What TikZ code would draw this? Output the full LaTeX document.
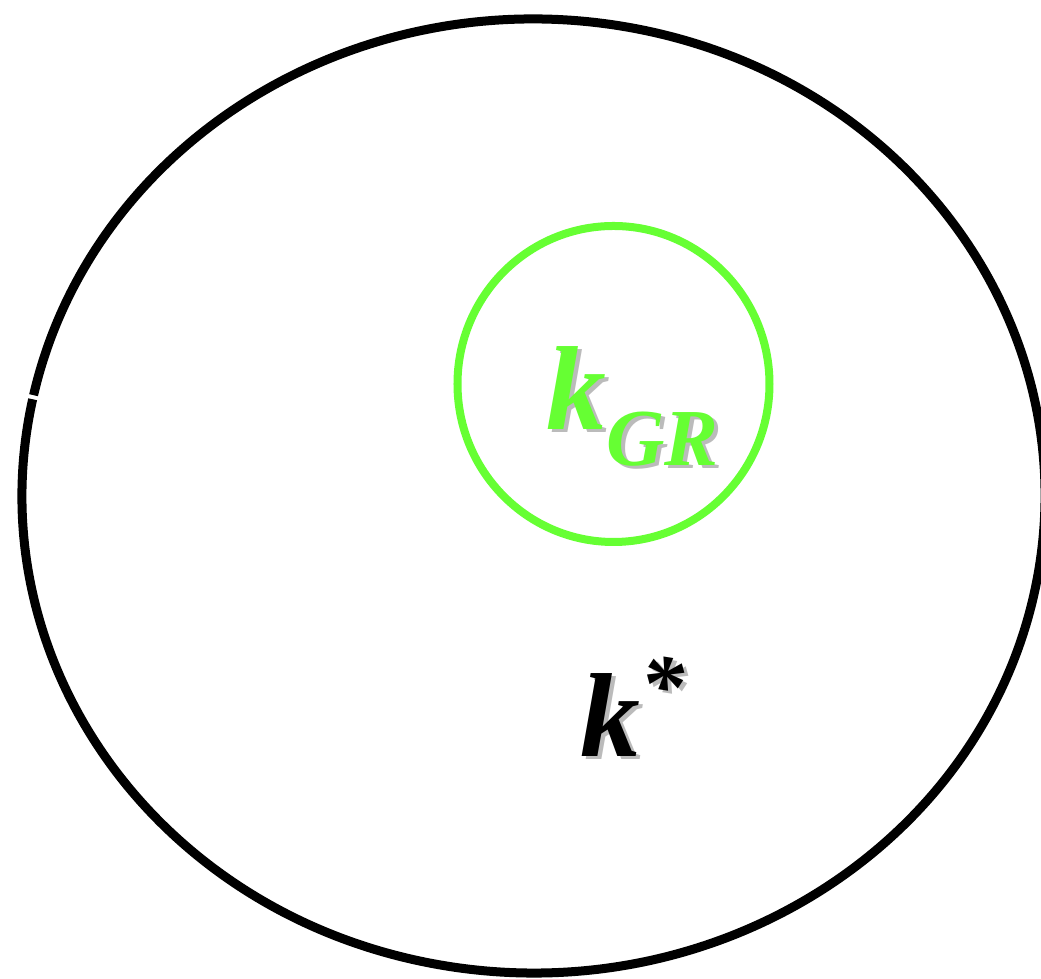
\documentclass[tikz,border=0pt]{standalone}
\usepackage{fontspec}
\setmainfont{Liberation Serif}
\definecolor{kgreen}{HTML}{66FF33}
\definecolor{shadowgray}{HTML}{BBBBBB}
\begin{document}
\begin{tikzpicture}[x=0.01cm,y=0.01cm,
  outerline/.style={line width=0.09cm,draw=black},
  innerline/.style={line width=0.08cm,draw=kgreen},
  bigtxt/.style={inner sep=0pt,font=\fontsize{34}{40}\selectfont\bfseries\itshape},
]
\useasboundingbox (0,0) rectangle (1041,979);
% outer ellipse with small gap on the left
\coordinate (oc) at (533.5,483);
\draw[outerline] (oc) ++(168.3:511.5 and 477)
  arc[start angle=168.3, end angle=527.8, x radius=511.5, y radius=477];
% green circle
\draw[innerline] (613.5,595) ellipse[x radius=156, y radius=158];
\coordinate (gc) at (613.5,595);
% k_GR label: shadow then text
\node[bigtxt,text=shadowgray,anchor=base west] (kgrs) at (550,546)
  {k\raisebox{-0.3em}{\fontsize{23}{28}\selectfont GR}};
\node[bigtxt,text=kgreen,anchor=base west] (kgr) at (546,549)
  {k\raisebox{-0.3em}{\fontsize{23}{28}\selectfont GR}};
% k* label
\node[bigtxt,text=shadowgray,anchor=base west] (kss) at (584,219)
  {k\raisebox{0.35em}{\fontsize{25}{30}\selectfont *}};
\node[bigtxt,text=black,anchor=base west] (ks) at (580,222)
  {k\raisebox{0.35em}{\fontsize{25}{30}\selectfont *}};
\end{tikzpicture}
\end{document}
